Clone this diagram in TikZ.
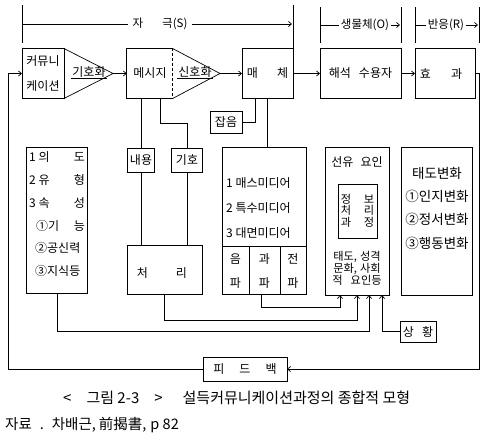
\documentclass[tikz,border=0pt]{standalone}
\usepackage{fontspec}
\setmainfont{Noto Sans CJK KR}
\usetikzlibrary{arrows.meta}
\begin{document}
\begin{tikzpicture}[x=1pt,y=-1pt,
  ln/.style={line width=0.7pt},
  bx/.style={draw,line width=0.7pt,inner sep=0pt,outer sep=0pt},
  arr/.style={-{Straight Barb[length=3pt,width=5pt]}},
  txt/.style={inner sep=0pt,font=\fontsize{12}{13}\selectfont},
  mid/.style={inner sep=0pt,font=\fontsize{13.5}{14}\selectfont},
  sm/.style={inner sep=0pt,font=\fontsize{11.2}{12}\selectfont},
  big/.style={inner sep=0pt,font=\fontsize{14.5}{15}\selectfont},
  cbig/.style={inner sep=0pt,font=\fontsize{15}{16}\selectfont},
  lbl/.style={inner xsep=4pt,inner ysep=0pt,font=\fontsize{11.5}{12}\selectfont},
  ]
\fill[white] (0,0) rectangle (486,445);
\useasboundingbox (0,0) rectangle (486,445);

% ---------- top brackets ----------
\coordinate (s1t) at (22,5);  \coordinate (s1b) at (22,43);
\coordinate (s2t) at (293,5); \coordinate (s2b) at (293,50);
\coordinate (o1t) at (320,7); \coordinate (o1b) at (320,43);
\coordinate (o2t) at (401,7); \coordinate (o2b) at (401,43);
\coordinate (r1t) at (415,7); \coordinate (r1b) at (415,43);
\coordinate (r2t) at (479,7); \coordinate (r2b) at (479,43);
\draw[ln] (s1t) -- (s1b); \draw[ln] (s2t) -- (s2b);
\draw[ln] (o1t) -- (o1b); \draw[ln] (o2t) -- (o2b);
\draw[ln] (r1t) -- (r1b); \draw[ln] (r2t) -- (r2b);
\node[lbl] (S) at (160,24) {자\hspace{19pt}극(S)};
\coordinate (sL) at (22,24); \coordinate (sR) at (292,24);
\draw[ln] (sL) -- (S.west); \draw[ln,arr] (S.east) -- (sR);
\node[lbl,inner xsep=2pt] (O) at (365,25) {생물체(O)};
\coordinate (oL) at (320,25); \coordinate (oR) at (400,25);
\draw[ln] (oL) -- (O.west); \draw[ln,arr] (O.east) -- (oR);
\node[lbl,inner xsep=2pt] (R) at (446,25) {반응(R)};
\coordinate (rL) at (415,25); \coordinate (rR) at (478,25);
\draw[ln] (rL) -- (R.west); \draw[ln,arr] (R.east) -- (rR);

% ---------- row 1 ----------
\node[bx,minimum width=42pt,minimum height=50pt] (kom) at (43,73.5) {};
\node[txt] (k1) at (43,61) {커뮤니};
\node[txt] (k2) at (43,86) {케이션};
\coordinate (t1) at (113,73.5);
\draw[ln] (kom.north east) -- (t1) -- (kom.south east);
\node[txt,inner sep=1pt] (gh1) at (89,72) {기호화};
\draw[line width=0.5pt] (gh1.south west) -- (gh1.south east);

\node[inner sep=0pt,minimum width=45pt,minimum height=50pt] (msg) at (149.5,73.5) {};
\draw[ln] (msg.north east) -- (msg.north west) -- (msg.south west) -- (msg.south east);
\draw[ln,dash pattern=on 3pt off 2pt] (msg.north east) -- (msg.south east);
\node[txt] (m1) at (150,73) {메시지};
\coordinate (t2) at (220,73.5);
\draw[ln] (msg.north east) -- (t2) -- (msg.south east);
\node[txt,inner sep=1pt] (gh2) at (195,72) {신호화};
\draw[line width=0.5pt] (gh2.south west) -- (gh2.south east);

\node[bx,txt,minimum width=51pt,minimum height=50pt] (mc) at (267.5,73.5) {매\hspace{19pt}체};
\node[bx,txt,minimum width=81pt,minimum height=50pt] (hs) at (360.5,73.5) {해석\hspace{8pt}수용자};
\node[bx,minimum width=60pt,minimum height=50pt] (hg) at (445,73.5) {};
\node[txt] (hgt) at (441,74) {효\hspace{20pt}과};

\draw[ln,arr] (t1) -- (msg.west);
\draw[ln,arr] (t2) -- (mc.west);
\draw[ln,arr] (mc.east) -- (hs.west);
\draw[ln,arr] (hs.east) -- (hg.west);

% ---------- feedback loop ----------
\node[bx,txt,minimum width=84pt,minimum height=24pt] (fb) at (245,369) {피\hspace{15pt}드\hspace{15pt}백};
\coordinate (fr1) at (479,73.5); \coordinate (fr2) at (479,369);
\coordinate (fl1) at (8,369); \coordinate (fl2) at (8,73.5);
\draw[ln,arr] (hg.east) -- (fr1) -- (fr2) -- (fb.east);
\draw[ln,arr] (fb.west) -- (fl1) -- (fl2) -- (kom.west);

% ---------- second level ----------
\node[bx,txt,minimum width=32pt,minimum height=22pt] (jb) at (226,122) {잡음};
\node[bx,txt,minimum width=27pt,minimum height=24pt] (nae) at (141,160) {내용};
\node[bx,txt,minimum width=31pt,minimum height=24pt] (gho) at (187,160) {기호};
\node[bx,minimum width=75pt,minimum height=49pt] (cr) at (164.5,270) {};
\node[txt] (crt) at (162,273) {처\hspace{28pt}리};

\coordinate (mb1) at (141,98.5);
\draw[ln] (mb1) -- (nae.north);
\coordinate (mb2) at (160,98.5); \coordinate (mb3) at (160,123); \coordinate (mb4) at (187,123);
\draw[ln] (mb2) -- (mb3) -- (mb4) -- (gho.north);
\draw[ln] (nae.south) -- (nae.south |- cr.north);
\draw[ln] (gho.south) -- (gho.south |- cr.north);
\coordinate (cb1) at (255,98.5); \coordinate (cb2) at (255,122);
\draw[ln] (cb1) -- (cb2) -- (jb.east);

% ---------- left box ----------
\node[bx,minimum width=61pt,minimum height=146pt] (ui) at (57,220) {};
\node[txt,anchor=west] (u1a) at (29,157) {1 의};  \node[txt,anchor=east] (u1b) at (85,157) {도};
\node[txt,anchor=west] (u2a) at (29,180) {2 유};  \node[txt,anchor=east] (u2b) at (85,180) {형};
\node[txt,anchor=west] (u3a) at (29,203) {3 속};  \node[txt,anchor=east] (u3b) at (85,203) {성};
\node[txt,anchor=west] (u4a) at (36,226) {①기};   \node[txt,anchor=east] (u4b) at (85,226) {능};
\node[txt,anchor=west] (u5) at (35,248) {②공신력};
\node[txt,anchor=west] (u6) at (35,271) {③지식등};

% ---------- media box ----------
\node[bx,minimum width=84pt,minimum height=147pt] (md) at (264.5,220.5) {};
\draw[ln] (mc.south) -- (mc.south |- md.north);
\node[txt,anchor=west] (md1) at (226,183) {1 매스미디어};
\node[txt,anchor=west] (md2) at (226,208) {2 특수미디어};
\node[txt,anchor=west] (md3) at (226,233) {3 대면미디어};
\coordinate (dv1) at (222.5,246); \coordinate (dv2) at (306.5,246);
\draw[ln] (dv1) -- (dv2);
\coordinate (dva) at (249,246); \coordinate (dvb) at (280,246);
\draw[ln] (dva) -- (dva |- md.south);
\draw[ln] (dvb) -- (dvb |- md.south);
\node[txt] (c1a) at (235.5,259) {음}; \node[txt] (c1b) at (235.5,283) {파};
\node[txt] (c2a) at (264.5,259) {과}; \node[txt] (c2b) at (264.5,283) {파};
\node[txt] (c3a) at (293,259) {전};   \node[txt] (c3b) at (293,283) {파};

% ---------- predisposition box ----------
\node[bx,minimum width=64pt,minimum height=148pt] (sy) at (357,221) {};
\node[txt] (sy1) at (357,162) {선유\hspace{7pt}요인};
\node[bx,minimum width=39pt,minimum height=54pt] (jp) at (357.5,211) {};
\node[sm] (j1) at (346,199) {정}; \node[sm] (j2) at (369,199) {보};
\node[sm] (j3) at (346,210.5) {처}; \node[sm] (j4) at (369,210.5) {리};
\node[sm] (j5) at (346,222) {과}; \node[sm] (j6) at (369,222) {정};
\node[sm] (sy2) at (357,257) {태도,\hspace{3pt}성격};
\node[sm] (sy3) at (357,268.5) {문화,\hspace{3pt}사회};
\node[sm] (sy4) at (357,280) {적\hspace{8pt}요인등};

% ---------- attitude change box ----------
\node[bx,minimum width=71pt,minimum height=148pt] (td) at (437,221) {};
\node[mid] (td1) at (437,173) {태도변화};
\node[mid] (td2) at (437,196) {①인지변화};
\node[mid] (td3) at (437,219) {②정서변화};
\node[mid] (td4) at (437,243) {③행동변화};

% ---------- situation ----------
\node[bx,txt,minimum width=36pt,minimum height=21pt] (sh) at (418,331.5) {상\hspace{8pt}황};

% ---------- arrows into predisposition ----------
\coordinate (a1) at (57,331); \coordinate (a2) at (369,331);
\draw[ln,arr] (ui.south) -- (a1) -- (a2) -- (a2 |- sy.south);
\coordinate (b1) at (164.5,320); \coordinate (b2) at (357,320);
\draw[ln,arr] (cr.south) -- (b1) -- (b2) -- (b2 |- sy.south);
\coordinate (c0) at (261,294); \coordinate (c1) at (261,307); \coordinate (c2) at (340,307);
\draw[ln,arr] (c0) -- (c1) -- (c2) -- (c2 |- sy.south);
\coordinate (d1) at (382,331.5);
\draw[ln,arr] (sh.west) -- (d1) -- (d1 |- sy.south);

% ---------- caption ----------
\node[cbig,anchor=west] (cap) at (63,398) {<\hspace{15pt}그림 2-3\hspace{15pt}>\hspace{20pt}설득커뮤니케이션과정의 종합적 모형};
\node[big,anchor=west] (src) at (5,425) {자료\hspace{8pt}.\hspace{8pt}차배근,\hspace{3pt}前揭書,\hspace{4pt}p 82};
\end{tikzpicture}
\end{document}
